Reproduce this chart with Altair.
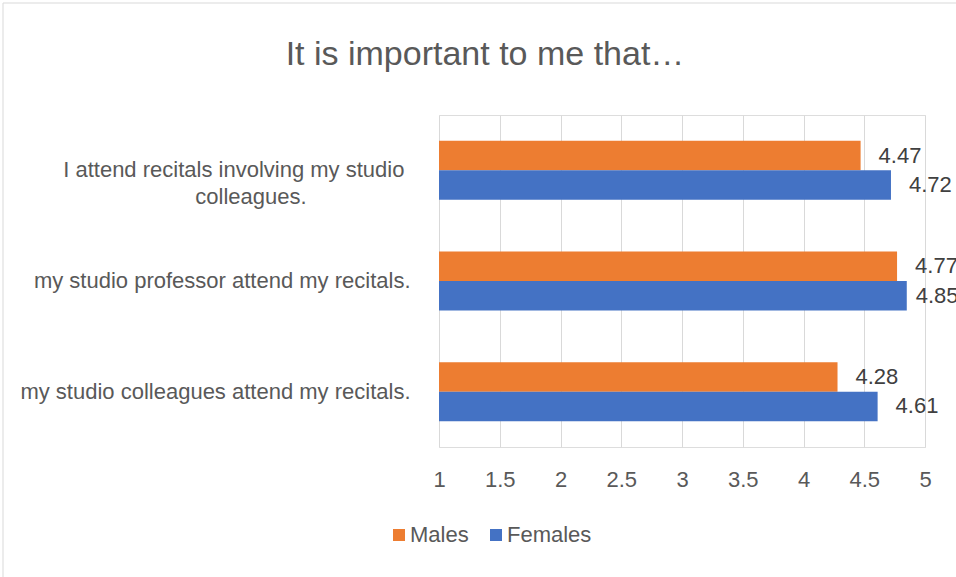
import altair as alt
import pandas as pd

categories = [
    "I attend recitals involving my studio colleagues.",
    "my studio professor attend my recitals.",
    "my studio colleagues attend my recitals.",
]
males = [4.47, 4.77, 4.28]
females = [4.72, 4.85, 4.61]
series = ["Males", "Females"]
colors = ["#ED7D31", "#4472C4"]
x_ticks = [1, 1.5, 2, 2.5, 3, 3.5, 4, 4.5, 5]

rows = []
for q, m, f in zip(categories, males, females):
    rows.append({"question": q, "sex": "Males", "value": m, "base": 1})
    rows.append({"question": q, "sex": "Females", "value": f, "base": 1})
df = pd.DataFrame(rows)

FONT = "Liberation Sans"
NB = "\u00a0"
WJ = "\u2060"
label_expr = (
    "datum.label == '" + categories[0] + "' ? "
    "['I attend recitals involving my studio" + NB + WJ + "', 'colleagues." + NB * 17 + WJ + "'] : datum.label"
)

y_enc = alt.Y(
    "question:N",
    sort=categories,
    scale=alt.Scale(paddingInner=0.467, paddingOuter=0.2335),
    axis=alt.Axis(
        title=None,
        domain=False,
        ticks=False,
        labelFont=FONT,
        labelFontSize=22,
        labelColor="#595959",
        labelPadding=29,
        labelAlign="right",
        labelLimit=500,
        labelLineHeight=27,
        labelExpr=label_expr,
    ),
)
yoff = alt.YOffset("sex:N", sort=series)

base = alt.Chart(df)

bars = base.mark_bar().encode(
    y=y_enc,
    yOffset=yoff,
    x=alt.X(
        "value:Q",
        scale=alt.Scale(domain=[1, 5], zero=False, nice=False),
        axis=alt.Axis(
            title=None,
            values=x_ticks,
            format="~g",
            domain=False,
            ticks=False,
            grid=True,
            gridColor="#D9D9D9",
            gridWidth=1,
            labelFont=FONT,
            labelFontSize=22,
            labelColor="#595959",
            labelPadding=22,
            labelFlush=False,
        ),
    ),
    x2="base:Q",
    color=alt.Color(
        "sex:N",
        sort=series,
        scale=alt.Scale(domain=series, range=colors),
        legend=alt.Legend(
            title=None,
            orient="none",
            legendX=-51,
            legendY=409,
            direction="horizontal",
            symbolType="square",
            symbolSize=144,
            symbolStrokeWidth=0,
            labelFont=FONT,
            labelFontSize=22,
            labelColor="#595959",
            labelOffset=0,
            columnPadding=16,
        ),
    ),
)

# Excel keeps data labels inside the chart box: labels are clamped at the right.
labels = base.transform_calculate(
    label_pos="min(datum.value, 4.775)"
).mark_text(
    align="left", baseline="middle", dx=18, font=FONT, fontSize=22, color="#404040"
).encode(
    y=y_enc,
    yOffset=yoff,
    x=alt.X("label_pos:Q"),
    text=alt.Text("value:Q", format=".2f"),
)

border = alt.Chart(alt.Data(values=[{"a": 1}])).mark_rect(
    fillOpacity=0, stroke="#D9D9D9", strokeWidth=1
).encode(
    x=alt.value(-436), x2=alt.value(560), y=alt.value(-112), y2=alt.value(500)
)

chart = alt.layer(border, bars, labels).properties(
    width=486,
    height=332,
    padding={"left": 439, "top": 115, "right": 31, "bottom": 130},
    autosize=alt.AutoSizeParams(type="none"),
    title=alt.Title(
        "It is important to me that…",
        font=FONT,
        fontSize=34,
        fontWeight="normal",
        color="#595959",
        anchor="middle",
        dx=-197,
        offset=-96,
        baseline="alphabetic",
    ),
).configure_view(stroke=None).configure(background="white")

chart.save("out.html", embed_options={"renderer": "svg", "actions": False})
